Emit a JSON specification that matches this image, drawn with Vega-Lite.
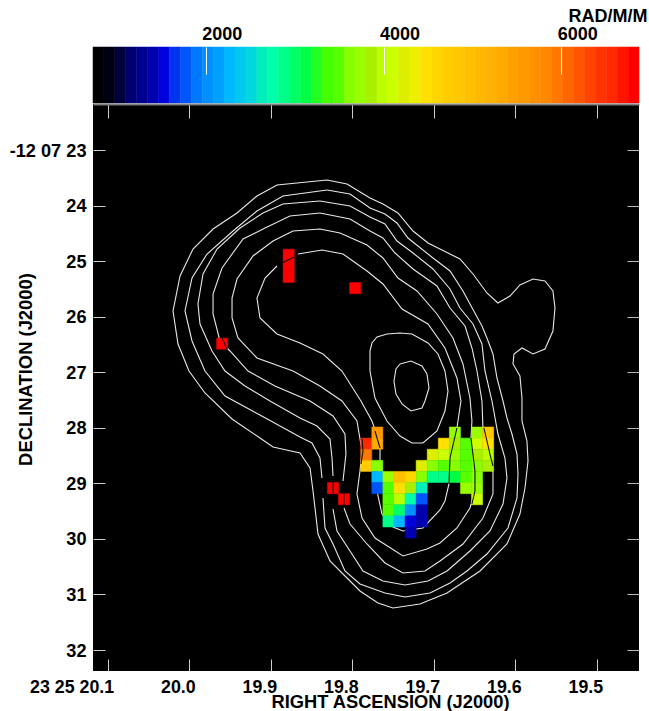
{
"$schema":"https://vega.github.io/schema/vega-lite/v6.json",
"autosize":{"type":"pad"},
"padding":{"left":9,"top":7,"right":0,"bottom":0},
"background":"white",
"spacing":-2,
"config":{"view":{"stroke":null},"font":"Liberation Sans","axis":{"grid":false,"domain":false,"labelFont":"Liberation Sans","titleFont":"Liberation Sans","labelFontWeight":"bold","titleFontWeight":"bold","labelColor":"#000000","titleColor":"#000000"}},
"vconcat":[
{"width":546,"height":56,
"data":{"values":[
{"lo":732,"hi":855,"rm":793},{"lo":855,"hi":978,"rm":916},{"lo":978,"hi":1101,"rm":1039},{"lo":1101,"hi":1223,"rm":1161},{"lo":1223,"hi":1346,"rm":1284},{"lo":1346,"hi":1469,"rm":1407},{"lo":1469,"hi":1592,"rm":1530},{"lo":1592,"hi":1715,"rm":1653},{"lo":1715,"hi":1838,"rm":1776},{"lo":1838,"hi":1960,"rm":1899},{"lo":1960,"hi":2083,"rm":2021},{"lo":2083,"hi":2206,"rm":2144},{"lo":2206,"hi":2329,"rm":2267},{"lo":2329,"hi":2452,"rm":2390},{"lo":2452,"hi":2575,"rm":2513},{"lo":2575,"hi":2697,"rm":2636},{"lo":2697,"hi":2820,"rm":2758},{"lo":2820,"hi":2943,"rm":2881},{"lo":2943,"hi":3066,"rm":3004},{"lo":3066,"hi":3189,"rm":3127},{"lo":3189,"hi":3312,"rm":3250},{"lo":3312,"hi":3434,"rm":3373},{"lo":3434,"hi":3557,"rm":3495},{"lo":3557,"hi":3680,"rm":3618},{"lo":3680,"hi":3803,"rm":3741},{"lo":3803,"hi":3926,"rm":3864},{"lo":3926,"hi":4049,"rm":3987},{"lo":4049,"hi":4172,"rm":4110},{"lo":4172,"hi":4294,"rm":4232},{"lo":4294,"hi":4417,"rm":4355},{"lo":4417,"hi":4540,"rm":4478},{"lo":4540,"hi":4663,"rm":4601},{"lo":4663,"hi":4786,"rm":4724},{"lo":4786,"hi":4909,"rm":4847},{"lo":4909,"hi":5031,"rm":4970},{"lo":5031,"hi":5154,"rm":5092},{"lo":5154,"hi":5277,"rm":5215},{"lo":5277,"hi":5400,"rm":5338},{"lo":5400,"hi":5523,"rm":5461},{"lo":5523,"hi":5646,"rm":5584},{"lo":5646,"hi":5769,"rm":5707},{"lo":5769,"hi":5891,"rm":5830},{"lo":5891,"hi":6014,"rm":5952},{"lo":6014,"hi":6137,"rm":6075},{"lo":6137,"hi":6260,"rm":6198},{"lo":6260,"hi":6383,"rm":6321},{"lo":6383,"hi":6506,"rm":6444},{"lo":6506,"hi":6629,"rm":6567},{"lo":6629,"hi":6752,"rm":6690},{"lo":6752,"hi":6874,"rm":6813}
]},
"mark":{"type":"rect","strokeWidth":0.5},
"encoding":{
"x":{"field":"lo","type":"quantitative","scale":{"domain":[732,6874],"nice":false,"zero":false},
"axis":{"orient":"top","values":[2000,4000,6000],"format":"d","tickSize":-27,"tickColor":"#ffffff","tickWidth":1,"zindex":1,"labelAlign":"left","labelOffset":-4,"labelPadding":35,"labelBaseline":"alphabetic","labelFontSize":18,"title":"RAD/M/M","titleFontSize":18,"titleAlign":"right","titleBaseline":"alphabetic","titleX":554,"titleY":-26,"titleAnchor":"end"}},
"x2":{"field":"hi"},
"color":{"field":"rm","type":"quantitative","legend":null,"scale":{"type":"quantize","domain":[732,6874],"nice":false,"zero":false,"range":["#000000","#000014","#00003c","#000070","#000090","#0000b0","#0000dd","#0033ee","#0055ff","#0077ff","#0090ff","#00a0ff","#00b8ff","#00c8ee","#00d8dd","#00eebb","#00ffaa","#00ff88","#00ff66","#00ff44","#22ff22","#44ff00","#55ff00","#88ff00","#99ff00","#aaee00","#bbff00","#ccff00","#ddee00","#eeee00","#ffe000","#ffd500","#ffcc00","#ffc800","#ffc000","#ffb800","#ffb000","#ffaa00","#ffa000","#ff9900","#ff9000","#ff8800","#ff7700","#ff6600","#ff5500","#ff4400","#ff3300","#ff2800","#ff1400","#ff0000"]}},
"stroke":{"field":"rm","type":"quantitative","legend":null,"scale":{"type":"quantize","domain":[732,6874],"nice":false,"zero":false,"range":["#000000","#000014","#00003c","#000070","#000090","#0000b0","#0000dd","#0033ee","#0055ff","#0077ff","#0090ff","#00a0ff","#00b8ff","#00c8ee","#00d8dd","#00eebb","#00ffaa","#00ff88","#00ff66","#00ff44","#22ff22","#44ff00","#55ff00","#88ff00","#99ff00","#aaee00","#bbff00","#ccff00","#ddee00","#eeee00","#ffe000","#ffd500","#ffcc00","#ffc800","#ffc000","#ffb800","#ffb000","#ffaa00","#ffa000","#ff9900","#ff9000","#ff8800","#ff7700","#ff6600","#ff5500","#ff4400","#ff3300","#ff2800","#ff1400","#ff0000"]}}
}
},
{"width":546,"height":567,
"view":{"fill":"#000000","stroke":null},
"resolve":{"axis":{"x":"independent","y":"independent"}},
"layer":[
{"data":{"values":[
{"l":"C1","i":0,"ra":19.8309,"dec":23.540},{"l":"C1","i":1,"ra":19.8063,"dec":23.612},{"l":"C1","i":2,"ra":19.7781,"dec":23.864},{"l":"C1","i":3,"ra":19.7622,"dec":23.972},{"l":"C1","i":4,"ra":19.7438,"dec":24.134},{"l":"C1","i":5,"ra":19.7253,"dec":24.458},{"l":"C1","i":6,"ra":19.7069,"dec":24.674},{"l":"C1","i":7,"ra":19.6677,"dec":24.962},{"l":"C1","i":8,"ra":19.6517,"dec":25.232},{"l":"C1","i":9,"ra":19.6346,"dec":25.574},{"l":"C1","i":10,"ra":19.6211,"dec":25.754},{"l":"C1","i":11,"ra":19.6063,"dec":25.628},{"l":"C1","i":12,"ra":19.5941,"dec":25.430},{"l":"C1","i":13,"ra":19.5781,"dec":25.322},{"l":"C1","i":14,"ra":19.5634,"dec":25.358},{"l":"C1","i":15,"ra":19.5536,"dec":25.538},{"l":"C1","i":16,"ra":19.5511,"dec":25.844},{"l":"C1","i":17,"ra":19.5536,"dec":26.258},{"l":"C1","i":18,"ra":19.5634,"dec":26.582},{"l":"C1","i":19,"ra":19.5781,"dec":26.672},{"l":"C1","i":20,"ra":19.5916,"dec":26.564},{"l":"C1","i":21,"ra":19.6014,"dec":26.672},{"l":"C1","i":22,"ra":19.6026,"dec":26.852},{"l":"C1","i":23,"ra":19.5941,"dec":27.068},{"l":"C1","i":24,"ra":19.5916,"dec":27.464},{"l":"C1","i":25,"ra":19.5916,"dec":27.878},{"l":"C1","i":26,"ra":19.5855,"dec":28.238},{"l":"C1","i":27,"ra":19.5842,"dec":28.598},{"l":"C1","i":28,"ra":19.5879,"dec":29.084},{"l":"C1","i":29,"ra":19.5941,"dec":29.552},{"l":"C1","i":30,"ra":19.6100,"dec":30.092},{"l":"C1","i":31,"ra":19.6431,"dec":30.578},{"l":"C1","i":32,"ra":19.6836,"dec":30.974},{"l":"C1","i":33,"ra":19.7168,"dec":31.172},{"l":"C1","i":34,"ra":19.7499,"dec":31.244},{"l":"C1","i":35,"ra":19.7683,"dec":31.154},{"l":"C1","i":36,"ra":19.7904,"dec":30.938},{"l":"C1","i":37,"ra":19.8051,"dec":30.722},{"l":"C1","i":38,"ra":19.8272,"dec":30.398},{"l":"C1","i":39,"ra":19.8419,"dec":29.912},{"l":"C1","i":40,"ra":19.8480,"dec":29.138},{"l":"C1","i":41,"ra":19.8517,"dec":28.724},{"l":"C1","i":42,"ra":19.8640,"dec":28.454},{"l":"C1","i":43,"ra":19.8971,"dec":28.346},{"l":"C1","i":44,"ra":19.9131,"dec":28.184},{"l":"C1","i":45,"ra":19.9474,"dec":27.842},{"l":"C1","i":46,"ra":19.9806,"dec":27.374},{"l":"C1","i":47,"ra":20.0002,"dec":26.978},{"l":"C1","i":48,"ra":20.0137,"dec":26.492},{"l":"C1","i":49,"ra":20.0198,"dec":25.898},{"l":"C1","i":50,"ra":20.0112,"dec":25.268},{"l":"C1","i":51,"ra":19.9953,"dec":24.782},{"l":"C1","i":52,"ra":19.9707,"dec":24.422},{"l":"C1","i":53,"ra":19.9413,"dec":24.134},{"l":"C1","i":54,"ra":19.9168,"dec":23.828},{"l":"C1","i":55,"ra":19.8922,"dec":23.630},{"l":"C1","i":56,"ra":19.8309,"dec":23.540},
{"l":"C2a","i":0,"ra":19.8309,"dec":23.720},{"l":"C2a","i":1,"ra":19.8026,"dec":23.792},{"l":"C2a","i":2,"ra":19.7781,"dec":24.044},{"l":"C2a","i":3,"ra":19.7597,"dec":24.152},{"l":"C2a","i":4,"ra":19.7450,"dec":24.314},{"l":"C2a","i":5,"ra":19.7315,"dec":24.584},{"l":"C2a","i":6,"ra":19.7008,"dec":24.944},{"l":"C2a","i":7,"ra":19.6799,"dec":25.178},{"l":"C2a","i":8,"ra":19.6640,"dec":25.538},{"l":"C2a","i":9,"ra":19.6554,"dec":25.772},{"l":"C2a","i":10,"ra":19.6407,"dec":26.168},{"l":"C2a","i":11,"ra":19.6346,"dec":26.384},{"l":"C2a","i":12,"ra":19.6272,"dec":26.672},{"l":"C2a","i":13,"ra":19.6223,"dec":27.104},{"l":"C2a","i":14,"ra":19.6149,"dec":27.518},{"l":"C2a","i":15,"ra":19.6100,"dec":27.824},{"l":"C2a","i":16,"ra":19.6039,"dec":28.112},{"l":"C2a","i":17,"ra":19.5977,"dec":28.472},{"l":"C2a","i":18,"ra":19.5965,"dec":28.832},{"l":"C2a","i":19,"ra":19.5977,"dec":29.264},{"l":"C2a","i":20,"ra":19.6088,"dec":29.804},{"l":"C2a","i":21,"ra":19.6346,"dec":30.272},{"l":"C2a","i":22,"ra":19.6591,"dec":30.578},{"l":"C2a","i":23,"ra":19.6799,"dec":30.794},{"l":"C2a","i":24,"ra":19.7045,"dec":30.974},{"l":"C2a","i":25,"ra":19.7352,"dec":31.046},{"l":"C2a","i":26,"ra":19.7597,"dec":30.974},{"l":"C2a","i":27,"ra":19.7904,"dec":30.812},{"l":"C2a","i":28,"ra":19.8088,"dec":30.578},{"l":"C2a","i":29,"ra":19.8235,"dec":30.092},{"l":"C2a","i":30,"ra":19.8333,"dec":29.804},{"l":"C2a","i":31,"ra":19.8358,"dec":29.264},
{"l":"C2b","i":0,"ra":19.8370,"dec":28.904},{"l":"C2b","i":1,"ra":19.8395,"dec":28.544},{"l":"C2b","i":2,"ra":19.8493,"dec":28.274},{"l":"C2b","i":3,"ra":19.8640,"dec":28.166},{"l":"C2b","i":4,"ra":19.9131,"dec":27.770},{"l":"C2b","i":5,"ra":19.9560,"dec":27.428},{"l":"C2b","i":6,"ra":19.9806,"dec":26.978},{"l":"C2b","i":7,"ra":19.9965,"dec":26.438},{"l":"C2b","i":8,"ra":20.0051,"dec":25.898},{"l":"C2b","i":9,"ra":19.9965,"dec":25.304},{"l":"C2b","i":10,"ra":19.9781,"dec":24.872},{"l":"C2b","i":11,"ra":19.9462,"dec":24.458},{"l":"C2b","i":12,"ra":19.9168,"dec":24.098},{"l":"C2b","i":13,"ra":19.8849,"dec":23.828},{"l":"C2b","i":14,"ra":19.8309,"dec":23.720},
{"l":"C3a","i":0,"ra":19.8395,"dec":23.918},{"l":"C3a","i":1,"ra":19.8026,"dec":24.008},{"l":"C3a","i":2,"ra":19.7781,"dec":24.206},{"l":"C3a","i":3,"ra":19.7597,"dec":24.332},{"l":"C3a","i":4,"ra":19.7450,"dec":24.638},{"l":"C3a","i":5,"ra":19.7253,"dec":24.854},{"l":"C3a","i":6,"ra":19.7008,"dec":25.142},{"l":"C3a","i":7,"ra":19.6799,"dec":25.502},{"l":"C3a","i":8,"ra":19.6677,"dec":25.844},{"l":"C3a","i":9,"ra":19.6517,"dec":26.132},{"l":"C3a","i":10,"ra":19.6407,"dec":26.492},{"l":"C3a","i":11,"ra":19.6370,"dec":26.978},{"l":"C3a","i":12,"ra":19.6284,"dec":27.518},{"l":"C3a","i":13,"ra":19.6211,"dec":28.112},{"l":"C3a","i":14,"ra":19.6125,"dec":28.544},{"l":"C3a","i":15,"ra":19.6100,"dec":28.904},{"l":"C3a","i":16,"ra":19.6149,"dec":29.372},{"l":"C3a","i":17,"ra":19.6309,"dec":29.858},{"l":"C3a","i":18,"ra":19.6554,"dec":30.218},{"l":"C3a","i":19,"ra":19.6836,"dec":30.578},{"l":"C3a","i":20,"ra":19.7069,"dec":30.758},{"l":"C3a","i":21,"ra":19.7352,"dec":30.830},{"l":"C3a","i":22,"ra":19.7622,"dec":30.758},{"l":"C3a","i":23,"ra":19.7867,"dec":30.578},{"l":"C3a","i":24,"ra":19.8026,"dec":30.218},{"l":"C3a","i":25,"ra":19.8186,"dec":29.858},{"l":"C3a","i":26,"ra":19.8235,"dec":29.462},
{"l":"C3b","i":0,"ra":19.8235,"dec":28.868},{"l":"C3b","i":1,"ra":19.8247,"dec":28.544},{"l":"C3b","i":2,"ra":19.8272,"dec":28.202},{"l":"C3b","i":3,"ra":19.8431,"dec":27.968},{"l":"C3b","i":4,"ra":19.8640,"dec":27.824},{"l":"C3b","i":5,"ra":19.9008,"dec":27.518},{"l":"C3b","i":6,"ra":19.9315,"dec":27.248},{"l":"C3b","i":7,"ra":19.9560,"dec":26.978},{"l":"C3b","i":8,"ra":19.9720,"dec":26.618},{"l":"C3b","i":9,"ra":19.9867,"dec":26.132},{"l":"C3b","i":10,"ra":19.9892,"dec":25.772},{"l":"C3b","i":11,"ra":19.9830,"dec":25.232},{"l":"C3b","i":12,"ra":19.9658,"dec":24.782},{"l":"C3b","i":13,"ra":19.9376,"dec":24.404},{"l":"C3b","i":14,"ra":19.9094,"dec":24.134},{"l":"C3b","i":15,"ra":19.8849,"dec":23.972},{"l":"C3b","i":16,"ra":19.8395,"dec":23.918},
{"l":"C4a","i":0,"ra":19.8395,"dec":24.134},{"l":"C4a","i":1,"ra":19.8026,"dec":24.242},{"l":"C4a","i":2,"ra":19.7781,"dec":24.458},{"l":"C4a","i":3,"ra":19.7622,"dec":24.584},{"l":"C4a","i":4,"ra":19.7474,"dec":24.854},{"l":"C4a","i":5,"ra":19.7253,"dec":25.142},{"l":"C4a","i":6,"ra":19.6959,"dec":25.448},{"l":"C4a","i":7,"ra":19.6799,"dec":25.844},{"l":"C4a","i":8,"ra":19.6615,"dec":26.168},{"l":"C4a","i":9,"ra":19.6530,"dec":26.564},{"l":"C4a","i":10,"ra":19.6468,"dec":26.978},{"l":"C4a","i":11,"ra":19.6407,"dec":27.518},{"l":"C4a","i":12,"ra":19.6395,"dec":28.004},{"l":"C4a","i":13,"ra":19.6309,"dec":28.472},{"l":"C4a","i":14,"ra":19.6272,"dec":28.778},{"l":"C4a","i":15,"ra":19.6272,"dec":29.192},{"l":"C4a","i":16,"ra":19.6395,"dec":29.624},{"l":"C4a","i":17,"ra":19.6640,"dec":30.092},{"l":"C4a","i":18,"ra":19.6922,"dec":30.398},{"l":"C4a","i":19,"ra":19.7106,"dec":30.578},{"l":"C4a","i":20,"ra":19.7376,"dec":30.614},{"l":"C4a","i":21,"ra":19.7597,"dec":30.434},{"l":"C4a","i":22,"ra":19.7818,"dec":30.092},{"l":"C4a","i":23,"ra":19.8026,"dec":29.732},{"l":"C4a","i":24,"ra":19.8100,"dec":29.444},
{"l":"C4b","i":0,"ra":19.8112,"dec":28.958},{"l":"C4b","i":1,"ra":19.8076,"dec":28.472},{"l":"C4b","i":2,"ra":19.8088,"dec":28.112},{"l":"C4b","i":3,"ra":19.8235,"dec":27.788},{"l":"C4b","i":4,"ra":19.8517,"dec":27.518},{"l":"C4b","i":5,"ra":19.8947,"dec":27.248},{"l":"C4b","i":6,"ra":19.9278,"dec":26.978},{"l":"C4b","i":7,"ra":19.9499,"dec":26.618},{"l":"C4b","i":8,"ra":19.9622,"dec":26.438},{"l":"C4b","i":9,"ra":19.9707,"dec":25.952},{"l":"C4b","i":10,"ra":19.9707,"dec":25.592},{"l":"C4b","i":11,"ra":19.9597,"dec":25.124},{"l":"C4b","i":12,"ra":19.9339,"dec":24.602},{"l":"C4b","i":13,"ra":19.9069,"dec":24.404},{"l":"C4b","i":14,"ra":19.8763,"dec":24.188},{"l":"C4b","i":15,"ra":19.8395,"dec":24.134},
{"l":"C5","i":0,"ra":19.8395,"dec":24.422},{"l":"C5","i":1,"ra":19.8149,"dec":24.494},{"l":"C5","i":2,"ra":19.7818,"dec":24.710},{"l":"C5","i":3,"ra":19.7622,"dec":24.944},{"l":"C5","i":4,"ra":19.7438,"dec":25.304},{"l":"C5","i":5,"ra":19.7204,"dec":25.538},{"l":"C5","i":6,"ra":19.6959,"dec":25.952},{"l":"C5","i":7,"ra":19.6763,"dec":26.384},{"l":"C5","i":8,"ra":19.6640,"dec":26.852},{"l":"C5","i":9,"ra":19.6554,"dec":27.464},{"l":"C5","i":10,"ra":19.6530,"dec":27.878},{"l":"C5","i":11,"ra":19.6542,"dec":28.184},{"l":"C5","i":12,"ra":19.6493,"dec":28.778},{"l":"C5","i":13,"ra":19.6493,"dec":29.138},{"l":"C5","i":14,"ra":19.6554,"dec":29.444},{"l":"C5","i":15,"ra":19.6714,"dec":29.804},{"l":"C5","i":16,"ra":19.6922,"dec":30.074},{"l":"C5","i":17,"ra":19.7082,"dec":30.182},{"l":"C5","i":18,"ra":19.7376,"dec":30.308},{"l":"C5","i":19,"ra":19.7720,"dec":29.984},{"l":"C5","i":20,"ra":19.7879,"dec":29.624},{"l":"C5","i":21,"ra":19.7941,"dec":29.192},{"l":"C5","i":22,"ra":19.7904,"dec":28.778},{"l":"C5","i":23,"ra":19.7879,"dec":28.418},{"l":"C5","i":24,"ra":19.7941,"dec":27.878},{"l":"C5","i":25,"ra":19.8125,"dec":27.518},{"l":"C5","i":26,"ra":19.8395,"dec":27.248},{"l":"C5","i":27,"ra":19.8726,"dec":26.978},{"l":"C5","i":28,"ra":19.9168,"dec":26.744},{"l":"C5","i":29,"ra":19.9401,"dec":26.384},{"l":"C5","i":30,"ra":19.9474,"dec":26.024},{"l":"C5","i":31,"ra":19.9474,"dec":25.664},{"l":"C5","i":32,"ra":19.9413,"dec":25.322},{"l":"C5","i":33,"ra":19.9217,"dec":24.908},{"l":"C5","i":34,"ra":19.8971,"dec":24.638},{"l":"C5","i":35,"ra":19.8726,"dec":24.458},{"l":"C5","i":36,"ra":19.8395,"dec":24.422},
{"l":"C6","i":0,"ra":19.8665,"dec":24.872},{"l":"C6","i":1,"ra":19.8370,"dec":24.800},{"l":"C6","i":2,"ra":19.8112,"dec":24.872},{"l":"C6","i":3,"ra":19.7818,"dec":25.178},{"l":"C6","i":4,"ra":19.7622,"dec":25.412},{"l":"C6","i":5,"ra":19.7388,"dec":25.862},{"l":"C6","i":6,"ra":19.7069,"dec":26.132},{"l":"C6","i":7,"ra":19.6861,"dec":26.564},{"l":"C6","i":8,"ra":19.6714,"dec":27.104},{"l":"C6","i":9,"ra":19.6665,"dec":27.518},{"l":"C6","i":10,"ra":19.6714,"dec":28.004},{"l":"C6","i":11,"ra":19.6799,"dec":28.544},{"l":"C6","i":12,"ra":19.6812,"dec":29.012},{"l":"C6","i":13,"ra":19.6861,"dec":29.318},{"l":"C6","i":14,"ra":19.6922,"dec":29.480},{"l":"C6","i":15,"ra":19.7131,"dec":29.804},{"l":"C6","i":16,"ra":19.7376,"dec":29.858},{"l":"C6","i":17,"ra":19.7499,"dec":29.786},{"l":"C6","i":18,"ra":19.7634,"dec":29.552},{"l":"C6","i":19,"ra":19.7695,"dec":29.138},{"l":"C6","i":20,"ra":19.7658,"dec":28.652},{"l":"C6","i":21,"ra":19.7658,"dec":28.292},{"l":"C6","i":22,"ra":19.7757,"dec":27.878},{"l":"C6","i":23,"ra":19.7892,"dec":27.518},{"l":"C6","i":24,"ra":19.8125,"dec":26.978},{"l":"C6","i":25,"ra":19.8358,"dec":26.672},{"l":"C6","i":26,"ra":19.8640,"dec":26.474},{"l":"C6","i":27,"ra":19.8922,"dec":26.312},{"l":"C6","i":28,"ra":19.9131,"dec":26.024},{"l":"C6","i":29,"ra":19.9168,"dec":25.664},{"l":"C6","i":30,"ra":19.9069,"dec":25.304},{"l":"C6","i":31,"ra":19.8922,"dec":25.088},
{"l":"C7","i":0,"ra":19.7781,"dec":26.618},{"l":"C7","i":1,"ra":19.7781,"dec":26.978},{"l":"C7","i":2,"ra":19.7720,"dec":27.464},{"l":"C7","i":3,"ra":19.7573,"dec":27.878},{"l":"C7","i":4,"ra":19.7413,"dec":28.148},{"l":"C7","i":5,"ra":19.7266,"dec":28.274},{"l":"C7","i":6,"ra":19.7131,"dec":28.274},{"l":"C7","i":7,"ra":19.6959,"dec":28.058},{"l":"C7","i":8,"ra":19.6861,"dec":27.698},{"l":"C7","i":9,"ra":19.6824,"dec":27.338},{"l":"C7","i":10,"ra":19.6861,"dec":26.978},{"l":"C7","i":11,"ra":19.6947,"dec":26.672},{"l":"C7","i":12,"ra":19.7069,"dec":26.474},{"l":"C7","i":13,"ra":19.7266,"dec":26.312},{"l":"C7","i":14,"ra":19.7413,"dec":26.294},{"l":"C7","i":15,"ra":19.7573,"dec":26.312},{"l":"C7","i":16,"ra":19.7695,"dec":26.366},{"l":"C7","i":17,"ra":19.7757,"dec":26.474},{"l":"C7","i":18,"ra":19.7781,"dec":26.618},
{"l":"C8","i":0,"ra":19.7413,"dec":26.852},{"l":"C8","i":1,"ra":19.7278,"dec":26.798},{"l":"C8","i":2,"ra":19.7143,"dec":26.888},{"l":"C8","i":3,"ra":19.7082,"dec":27.032},{"l":"C8","i":4,"ra":19.7057,"dec":27.284},{"l":"C8","i":5,"ra":19.7106,"dec":27.518},{"l":"C8","i":6,"ra":19.7143,"dec":27.644},{"l":"C8","i":7,"ra":19.7278,"dec":27.698},{"l":"C8","i":8,"ra":19.7388,"dec":27.572},{"l":"C8","i":9,"ra":19.7462,"dec":27.392},{"l":"C8","i":10,"ra":19.7487,"dec":27.158},{"l":"C8","i":11,"ra":19.7462,"dec":26.942},{"l":"C8","i":12,"ra":19.7413,"dec":26.852}
]},
"mark":{"type":"line","color":"#e8e8e8","strokeWidth":1.1,"clip":true},
"encoding":{
"x":{"field":"ra","type":"quantitative","scale":{"domain":[20.118,19.448],"nice":false,"zero":false},
"axis":{"orient":"bottom","values":[20.1,20.0,19.9,19.8,19.7,19.6,19.5],"labelExpr":"datum.value==20.1?'23 25 20.1':format(datum.value,'.1f')","tickSize":-12,"tickColor":"#cccccc","tickWidth":1,"zindex":1,"labelAlign":"right","labelOffset":6,"labelPadding":33,"labelBaseline":"alphabetic","labelFontSize":17.8,"title":"RIGHT ASCENSION (J2000)","titleFontSize":18.3,"titleX":297,"titleY":36,"titleAlign":"center","titleBaseline":"alphabetic","labelOverlap":false,"labelFlush":false}},
"y":{"field":"dec","type":"quantitative","scale":{"domain":[32.378,22.172],"nice":false,"zero":false},
"axis":{"orient":"left","values":[23,24,25,26,27,28,29,30,31,32],"labelExpr":"datum.value==23?'-12 07 23':format(datum.value,'d')","tickSize":-12,"tickColor":"#cccccc","tickWidth":1,"zindex":1,"labelAlign":"right","labelPadding":19,"labelOffset":1,"labelBaseline":"middle","labelFontSize":18.2,"title":"DECLINATION (J2000)","titleFontSize":18.4,"titleAngle":-90,"titleX":-62,"titleY":265,"titleAlign":"center","titleBaseline":"alphabetic","labelOverlap":false,"labelFlush":false}},
"detail":{"field":"l"},
"order":{"field":"i","type":"quantitative"}
}
},
{"data":{"values":[
{"ra":19.7759,"ra2":19.7623,"dec":27.986,"dec2":28.186,"rm":5584},{"ra":19.6807,"ra2":19.6671,"dec":27.986,"dec2":28.186,"rm":3741},{"ra":19.6535,"ra2":19.6399,"dec":27.986,"dec2":28.186,"rm":3741},{"ra":19.6399,"ra2":19.6263,"dec":27.986,"dec2":28.186,"rm":4847},
{"ra":19.7895,"ra2":19.7759,"dec":28.186,"dec2":28.386,"rm":6567},{"ra":19.7759,"ra2":19.7623,"dec":28.186,"dec2":28.386,"rm":5338},{"ra":19.6943,"ra2":19.6807,"dec":28.186,"dec2":28.386,"rm":4478},{"ra":19.6807,"ra2":19.6671,"dec":28.186,"dec2":28.386,"rm":3864},{"ra":19.6671,"ra2":19.6535,"dec":28.186,"dec2":28.386,"rm":3495},{"ra":19.6535,"ra2":19.6399,"dec":28.186,"dec2":28.386,"rm":4110},{"ra":19.6399,"ra2":19.6263,"dec":28.186,"dec2":28.386,"rm":4478},
{"ra":19.7895,"ra2":19.7759,"dec":28.386,"dec2":28.586,"rm":5952},{"ra":19.7079,"ra2":19.6943,"dec":28.386,"dec2":28.586,"rm":4232},{"ra":19.6943,"ra2":19.6807,"dec":28.386,"dec2":28.586,"rm":4110},{"ra":19.6807,"ra2":19.6671,"dec":28.386,"dec2":28.586,"rm":3741},{"ra":19.6671,"ra2":19.6535,"dec":28.386,"dec2":28.586,"rm":3495},{"ra":19.6535,"ra2":19.6399,"dec":28.386,"dec2":28.586,"rm":3864},{"ra":19.6399,"ra2":19.6263,"dec":28.386,"dec2":28.586,"rm":3987},
{"ra":19.7895,"ra2":19.7759,"dec":28.586,"dec2":28.786,"rm":4724},{"ra":19.7759,"ra2":19.7623,"dec":28.586,"dec2":28.786,"rm":3618},{"ra":19.7215,"ra2":19.7079,"dec":28.586,"dec2":28.786,"rm":4232},{"ra":19.7079,"ra2":19.6943,"dec":28.586,"dec2":28.786,"rm":3618},{"ra":19.6943,"ra2":19.6807,"dec":28.586,"dec2":28.786,"rm":3495},{"ra":19.6807,"ra2":19.6671,"dec":28.586,"dec2":28.786,"rm":3618},{"ra":19.6671,"ra2":19.6535,"dec":28.586,"dec2":28.786,"rm":3495},{"ra":19.6535,"ra2":19.6399,"dec":28.586,"dec2":28.786,"rm":3618},{"ra":19.6399,"ra2":19.6263,"dec":28.586,"dec2":28.786,"rm":3864},
{"ra":19.7759,"ra2":19.7623,"dec":28.786,"dec2":28.986,"rm":2267},{"ra":19.7623,"ra2":19.7487,"dec":28.786,"dec2":28.986,"rm":3741},{"ra":19.7487,"ra2":19.7351,"dec":28.786,"dec2":28.986,"rm":4970},{"ra":19.7351,"ra2":19.7215,"dec":28.786,"dec2":28.986,"rm":4601},{"ra":19.7215,"ra2":19.7079,"dec":28.786,"dec2":28.986,"rm":3618},{"ra":19.7079,"ra2":19.6943,"dec":28.786,"dec2":28.986,"rm":2881},{"ra":19.6943,"ra2":19.6807,"dec":28.786,"dec2":28.986,"rm":2881},{"ra":19.6807,"ra2":19.6671,"dec":28.786,"dec2":28.986,"rm":3127},{"ra":19.6671,"ra2":19.6535,"dec":28.786,"dec2":28.986,"rm":3495},{"ra":19.6535,"ra2":19.6399,"dec":28.786,"dec2":28.986,"rm":3618},
{"ra":19.7759,"ra2":19.7623,"dec":28.986,"dec2":29.186,"rm":1776},{"ra":19.7623,"ra2":19.7487,"dec":28.986,"dec2":29.186,"rm":3495},{"ra":19.7487,"ra2":19.7351,"dec":28.986,"dec2":29.186,"rm":4478},{"ra":19.7351,"ra2":19.7215,"dec":28.986,"dec2":29.186,"rm":3864},{"ra":19.7215,"ra2":19.7079,"dec":28.986,"dec2":29.186,"rm":2636},{"ra":19.6671,"ra2":19.6535,"dec":28.986,"dec2":29.186,"rm":3741},{"ra":19.6535,"ra2":19.6399,"dec":28.986,"dec2":29.186,"rm":3741},
{"ra":19.7623,"ra2":19.7487,"dec":29.186,"dec2":29.386,"rm":3495},{"ra":19.7487,"ra2":19.7351,"dec":29.186,"dec2":29.386,"rm":3987},{"ra":19.7351,"ra2":19.7215,"dec":29.186,"dec2":29.386,"rm":2758},{"ra":19.7215,"ra2":19.7079,"dec":29.186,"dec2":29.386,"rm":1776},{"ra":19.6535,"ra2":19.6399,"dec":29.186,"dec2":29.386,"rm":4110},
{"ra":19.7623,"ra2":19.7487,"dec":29.386,"dec2":29.586,"rm":3495},{"ra":19.7487,"ra2":19.7351,"dec":29.386,"dec2":29.586,"rm":3004},{"ra":19.7351,"ra2":19.7215,"dec":29.386,"dec2":29.586,"rm":2021},{"ra":19.7215,"ra2":19.7079,"dec":29.386,"dec2":29.586,"rm":1407},
{"ra":19.7623,"ra2":19.7487,"dec":29.586,"dec2":29.786,"rm":2881},{"ra":19.7487,"ra2":19.7351,"dec":29.586,"dec2":29.786,"rm":2267},{"ra":19.7351,"ra2":19.7215,"dec":29.586,"dec2":29.786,"rm":1530},{"ra":19.7215,"ra2":19.7079,"dec":29.586,"dec2":29.786,"rm":1407},
{"ra":19.7351,"ra2":19.7215,"dec":29.786,"dec2":29.986,"rm":1407},
{"ra":19.8847,"ra2":19.8711,"dec":24.786,"dec2":24.986,"rm":6813},{"ra":19.8847,"ra2":19.8711,"dec":24.986,"dec2":25.186,"rm":6813},{"ra":19.8847,"ra2":19.8711,"dec":25.186,"dec2":25.386,"rm":6813},{"ra":19.8031,"ra2":19.7895,"dec":25.386,"dec2":25.586,"rm":6813},{"ra":19.9663,"ra2":19.9527,"dec":26.386,"dec2":26.586,"rm":6813},{"ra":19.8303,"ra2":19.8167,"dec":28.986,"dec2":29.186,"rm":6813},{"ra":19.8167,"ra2":19.8031,"dec":29.186,"dec2":29.386,"rm":6813}
]},
"mark":{"type":"rect","strokeWidth":0.5},
"encoding":{
"x":{"field":"ra","type":"quantitative","axis":{"orient":"top","values":[20.1,20.0,19.9,19.8,19.7,19.6,19.5],"labels":false,"title":null,"tickSize":-14,"tickColor":"#cccccc","tickWidth":1,"domain":true,"domainColor":"#808080","domainWidth":2,"zindex":1}},
"x2":{"field":"ra2"},
"y":{"field":"dec","type":"quantitative","axis":{"orient":"right","values":[23,24,25,26,27,28,29,30,31,32],"labels":false,"title":null,"tickSize":-12,"tickColor":"#bbbbbb","tickWidth":1,"zindex":1}},
"y2":{"field":"dec2"},
"color":{"field":"rm","type":"quantitative","legend":null,"scale":{"type":"quantize","domain":[732,6874],"nice":false,"zero":false,"range":["#000000","#000014","#00003c","#000070","#000090","#0000b0","#0000dd","#0033ee","#0055ff","#0077ff","#0090ff","#00a0ff","#00b8ff","#00c8ee","#00d8dd","#00eebb","#00ffaa","#00ff88","#00ff66","#00ff44","#22ff22","#44ff00","#55ff00","#88ff00","#99ff00","#aaee00","#bbff00","#ccff00","#ddee00","#eeee00","#ffe000","#ffd500","#ffcc00","#ffc800","#ffc000","#ffb800","#ffb000","#ffaa00","#ffa000","#ff9900","#ff9000","#ff8800","#ff7700","#ff6600","#ff5500","#ff4400","#ff3300","#ff2800","#ff1400","#ff0000"]}},
"stroke":{"field":"rm","type":"quantitative","legend":null,"scale":{"type":"quantize","domain":[732,6874],"nice":false,"zero":false,"range":["#000000","#000014","#00003c","#000070","#000090","#0000b0","#0000dd","#0033ee","#0055ff","#0077ff","#0090ff","#00a0ff","#00b8ff","#00c8ee","#00d8dd","#00eebb","#00ffaa","#00ff88","#00ff66","#00ff44","#22ff22","#44ff00","#55ff00","#88ff00","#99ff00","#aaee00","#bbff00","#ccff00","#ddee00","#eeee00","#ffe000","#ffd500","#ffcc00","#ffc800","#ffc000","#ffb800","#ffb000","#ffaa00","#ffa000","#ff9900","#ff9000","#ff8800","#ff7700","#ff6600","#ff5500","#ff4400","#ff3300","#ff2800","#ff1400","#ff0000"]}}
}
},
{"data":{"values":[
{"l":"K1","i":0,"ra":19.8861,"dec":25.034},{"l":"K1","i":1,"ra":19.8714,"dec":24.926},
{"l":"K2","i":0,"ra":19.9597,"dec":26.384},{"l":"K2","i":1,"ra":19.9536,"dec":26.582},
{"l":"K3","i":0,"ra":19.8235,"dec":28.976},{"l":"K3","i":1,"ra":19.8235,"dec":29.174},
{"l":"K4","i":0,"ra":19.8100,"dec":29.174},{"l":"K4","i":1,"ra":19.8100,"dec":29.390},
{"l":"K5","i":0,"ra":19.7879,"dec":28.202},{"l":"K5","i":1,"ra":19.7867,"dec":28.418},{"l":"K5","i":2,"ra":19.7892,"dec":28.652},
{"l":"K6","i":0,"ra":19.7720,"dec":28.058},{"l":"K6","i":1,"ra":19.7658,"dec":28.364},
{"l":"K7","i":0,"ra":19.6714,"dec":28.004},{"l":"K7","i":1,"ra":19.6799,"dec":28.544},{"l":"K7","i":2,"ra":19.6812,"dec":29.012},
{"l":"K8","i":0,"ra":19.6542,"dec":28.184},{"l":"K8","i":1,"ra":19.6493,"dec":28.778},{"l":"K8","i":2,"ra":19.6493,"dec":29.138},{"l":"K8","i":3,"ra":19.6530,"dec":29.372},
{"l":"K9","i":0,"ra":19.6383,"dec":28.004},{"l":"K9","i":1,"ra":19.6309,"dec":28.472},{"l":"K9","i":2,"ra":19.6272,"dec":28.688}
]},
"mark":{"type":"line","color":"#101010","strokeWidth":1.1},
"encoding":{
"x":{"field":"ra","type":"quantitative","axis":null},
"y":{"field":"dec","type":"quantitative","axis":null},
"detail":{"field":"l"},
"order":{"field":"i","type":"quantitative"}
}
}
]
}
]
}
